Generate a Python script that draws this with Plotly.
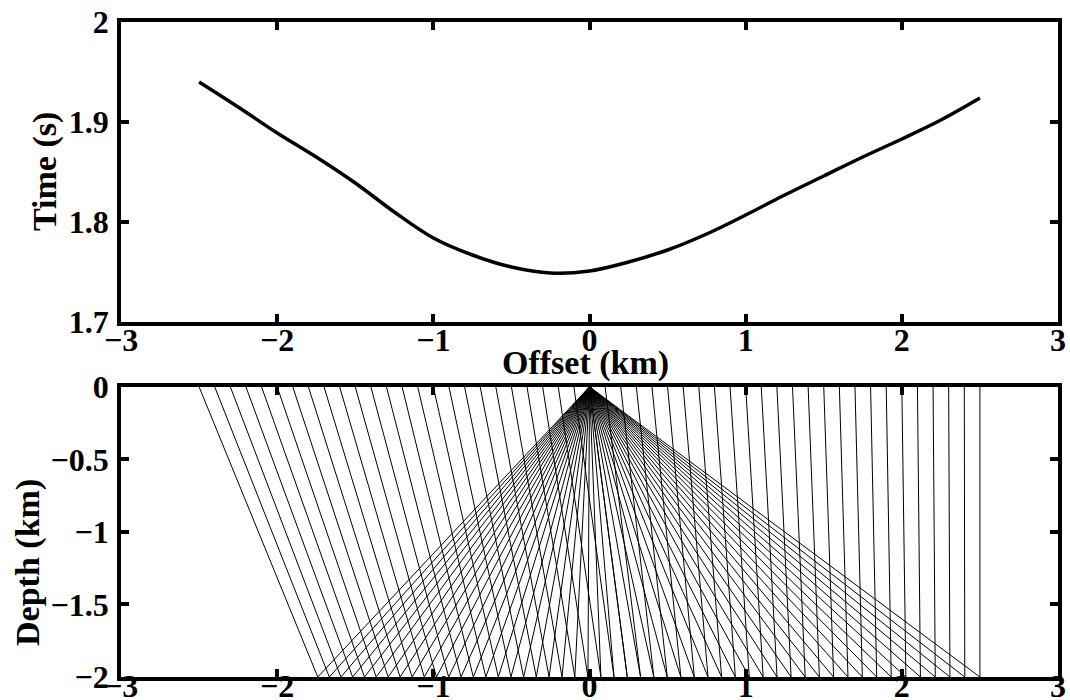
import plotly.graph_objects as go

# top panel: traveltime curve
offsets = [-2.5, -2.25, -2.0, -1.75, -1.5, -1.25, -1.0, -0.75, -0.5, -0.25, 0.0,
           0.25, 0.5, 0.75, 1.0, 1.25, 1.5, 1.75, 2.0, 2.25, 2.5]
times = [1.940, 1.915, 1.889, 1.865, 1.839, 1.810, 1.784, 1.767, 1.755, 1.749, 1.751,
         1.760, 1.772, 1.788, 1.807, 1.827, 1.846, 1.865, 1.883, 1.902, 1.924]

# bottom panel: rays source -> conversion point at reflector -> receiver
source_x = 0.0
reflector_depth = -2.0
receivers = [-2.5, -2.4, -2.3, -2.2, -2.1, -2.0, -1.9, -1.8, -1.7, -1.6, -1.5,
             -1.4, -1.3, -1.2, -1.1, -1.0, -0.9, -0.8, -0.7, -0.6, -0.5,
             -0.4, -0.3, -0.2, -0.1, 0.0, 0.1, 0.2, 0.3, 0.4, 0.5,
             0.6, 0.7, 0.8, 0.9, 1.0, 1.1, 1.2, 1.3, 1.4, 1.5,
             1.6, 1.7, 1.8, 1.9, 2.0, 2.1, 2.2, 2.3, 2.4, 2.5]
conversion_x = [-1.740, -1.666, -1.592, -1.517, -1.441, -1.366, -1.289, -1.213, -1.136, -1.058, -0.980,
                -0.902, -0.823, -0.744, -0.664, -0.584, -0.503, -0.422, -0.341, -0.259, -0.176,
                -0.094, -0.010, 0.073, 0.157, 0.242, 0.327, 0.412, 0.498, 0.585, 0.671,
                0.759, 0.846, 0.934, 1.023, 1.112, 1.201, 1.291, 1.381, 1.472, 1.563,
                1.655, 1.747, 1.839, 1.932, 2.026, 2.119, 2.214, 2.308, 2.403, 2.500]

ray_x, ray_y = [], []
for xr, xc in zip(receivers, conversion_x):
    ray_x += [source_x, xc, xr, None]
    ray_y += [0.0, reflector_depth, 0.0, None]

tick_font = dict(family="Liberation Serif", size=32, color="black", weight="bold")
title_font = dict(family="Liberation Serif", size=34, color="black", weight="bold")

fig = go.Figure()
fig.add_trace(go.Scatter(x=offsets, y=times, mode="lines", line=dict(color="black", width=3.5, shape="spline"),
                         xaxis="x", yaxis="y", showlegend=False))
fig.add_trace(go.Scatter(x=ray_x, y=ray_y, mode="lines", line=dict(color="black", width=1),
                         xaxis="x2", yaxis="y2", showlegend=False))

axis_style = dict(showline=True, linecolor="black", linewidth=3.5, mirror="ticks", ticks="inside",
                  ticklen=8, tickwidth=3.5, tickcolor="black", showgrid=False, zeroline=False,
                  tickfont=tick_font, automargin=False, ticklabeloverflow="allow")

fig.update_layout(
    width=1070, height=700,
    paper_bgcolor="white", plot_bgcolor="white",
    margin=dict(l=121, r=12, t=22, b=23),
    xaxis=dict(axis_style, domain=[0, 1], range=[-3, 3], tickvals=[-3, -2, -1, 0, 1, 2, 3], anchor="y",
               ticklabelstandoff=-13),
    yaxis=dict(axis_style, domain=[0.542, 1], range=[1.7, 2], tickvals=[1.7, 1.8, 1.9, 2.0],
               ticktext=["1.7", "1.8", "1.9", "2"], anchor="x", ticklabelstandoff=2),
    xaxis2=dict(axis_style, domain=[0, 1], range=[-3, 3], tickvals=[-3, -2, -1, 0, 1, 2, 3], anchor="y2",
                ticklabelstandoff=-22),
    yaxis2=dict(axis_style, domain=[0, 0.443], range=[-2, 0], tickvals=[-2, -1.5, -1, -0.5, 0], anchor="x2",
                ticklabelstandoff=2),
    annotations=[
        dict(text="Offset (km)", xref="paper", yref="paper", x=0.4957, y=0.479,
             xanchor="center", yanchor="middle", showarrow=False, font=title_font),
        dict(text="Time (s)", xref="paper", yref="paper", x=-0.0811, y=0.771, textangle=-90,
             xanchor="center", yanchor="middle", showarrow=False, font=title_font),
        dict(text="Depth (km)", xref="paper", yref="paper", x=-0.0993, y=0.1756, textangle=-90,
             xanchor="center", yanchor="middle", showarrow=False, font=title_font),
    ],
)

# page body margin would shift the fixed-size figure out of the window
fig.write_html("out.html", config={"displayModeBar": False},
               post_script="document.body.style.margin='0';document.body.style.overflow='hidden';")
